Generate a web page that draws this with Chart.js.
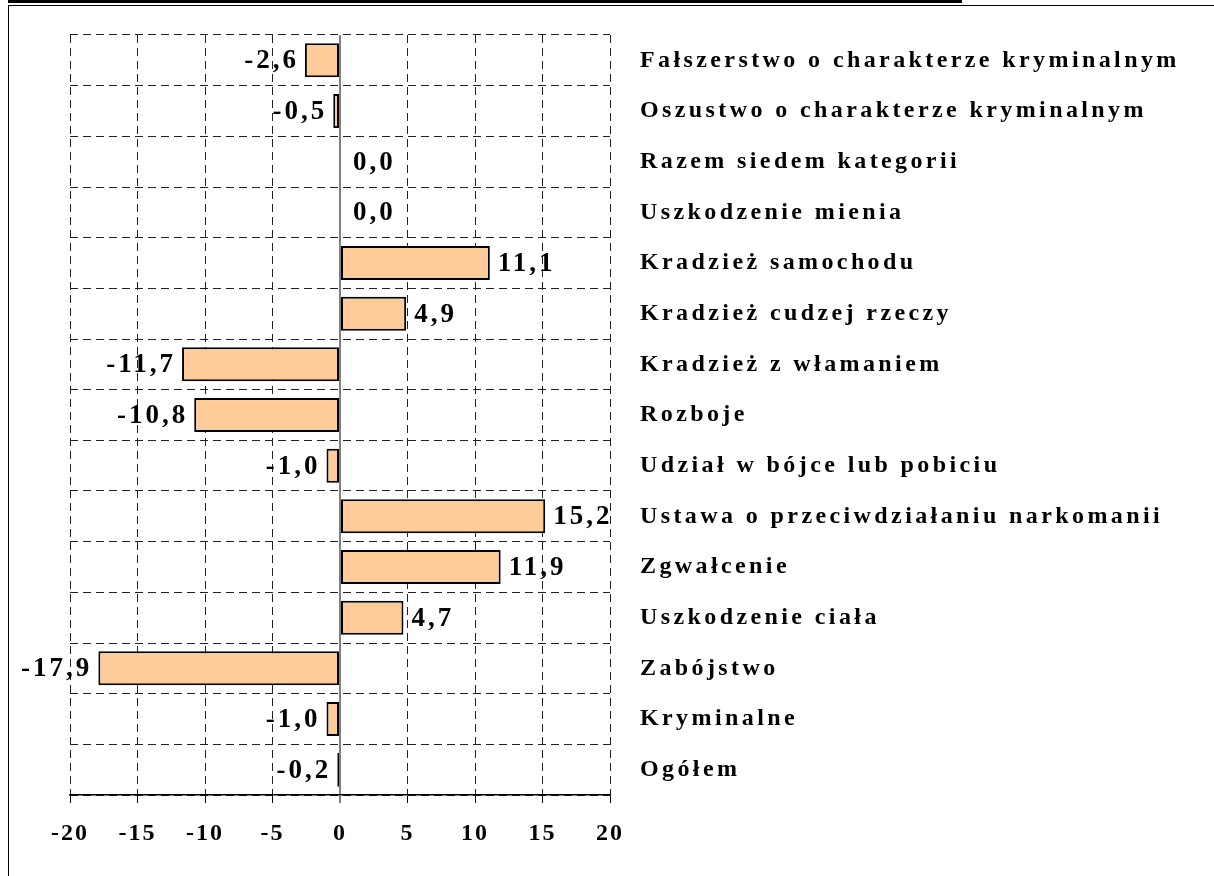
<!DOCTYPE html>
<html>
<head>
<meta charset="utf-8">
<script src="https://cdn.jsdelivr.net/npm/chart.js@4.4.1/dist/chart.umd.min.js"></script>
<style>
    html, body { margin: 0; padding: 0; background: #fff; }
    #wrap { position: relative; width: 1214px; height: 876px; overflow: hidden; }
    #titleBar { position: absolute; left: 8px; top: 0; width: 954px; height: 3px; background: #000; }
    #frame { position: absolute; left: 8px; top: 5px; width: 1300px; height: 1000px; border-left: 1px solid #000; border-top: 1px solid #000; }
    canvas { position: absolute; left: 0; top: 0; }
</style>
</head>
<body>
<div id="wrap">
    <div id="titleBar"></div>
    <div id="frame"></div>
    <canvas id="crimeChart" width="1214" height="876"></canvas>
</div>
<script>
const categories = [
    'Fałszerstwo o charakterze kryminalnym',
    'Oszustwo o charakterze kryminalnym',
    'Razem siedem kategorii',
    'Uszkodzenie mienia',
    'Kradzież samochodu',
    'Kradzież cudzej rzeczy',
    'Kradzież z włamaniem',
    'Rozboje',
    'Udział w bójce lub pobiciu',
    'Ustawa o przeciwdziałaniu narkomanii',
    'Zgwałcenie',
    'Uszkodzenie ciała',
    'Zabójstwo',
    'Kryminalne',
    'Ogółem'
];
const changes = [-2.6, -0.5, 0.0, 0.0, 11.1, 4.9, -11.7, -10.8, -1.0, 15.2, 11.9, 4.7, -17.9, -1.0, -0.2];
const xMin = -20;
const xMax = 20;
const xStep = 5;

const serif = "'Liberation Serif', 'DejaVu Serif', serif";

function fmt(v) {
    return v.toFixed(1).replace('.', ',');
}

// letter spacing: x tick labels are drawn before the bars, category labels after them (ticks.z = 1)
const spacingPlugin = {
    id: 'spacing',
    beforeDraw(chart) {
        chart.ctx.letterSpacing = '2px';
    },
    afterDatasetsDraw(chart) {
        chart.ctx.letterSpacing = '3.4px';
    }
};

const valueLabels = {
    id: 'valueLabels',
    afterDatasetsDraw(chart) {
        const ctx = chart.ctx;
        const meta = chart.getDatasetMeta(0);
        const zero = chart.scales.x.getPixelForValue(0);
        ctx.save();
        ctx.font = 'bold 27px ' + serif;
        ctx.letterSpacing = '3px';
        ctx.fillStyle = '#000';
        ctx.textBaseline = 'middle';
        meta.data.forEach((bar, i) => {
            const v = changes[i];
            if (v < 0) {
                ctx.textAlign = 'right';
                ctx.fillText(fmt(v), bar.x - 6, bar.y + 1);
            } else if (v > 0) {
                ctx.textAlign = 'left';
                ctx.fillText(fmt(v), bar.x + 8, bar.y + 1);
            } else {
                ctx.textAlign = 'left';
                ctx.fillText(fmt(v), zero + 13, bar.y + 1);
            }
        });
        ctx.restore();
    }
};

const ctx = document.getElementById('crimeChart').getContext('2d');
const chart = new Chart(ctx, {
    type: 'bar',
    data: {
        labels: categories,
        datasets: [{
            data: changes,
            backgroundColor: '#FFCC99',
            borderColor: '#000',
            borderWidth: 2,
            borderSkipped: false,
            barPercentage: 0.67,
            categoryPercentage: 1
        }]
    },
    options: {
        indexAxis: 'y',
        responsive: false,
        animation: false,
        layout: {
            padding: { left: 70, top: 35, right: 0, bottom: 0 }
        },
        plugins: {
            legend: { display: false },
            tooltip: { enabled: false }
        },
        scales: {
            x: {
                min: xMin,
                max: xMax,
                ticks: {
                    stepSize: xStep,
                    color: '#000',
                    padding: 16,
                    font: { family: serif, size: 24, weight: 'bold' }
                },
                grid: {
                    color: (c) => c.tick && c.tick.value === 0 ? '#808080' : '#222',
                    lineWidth: (c) => c.tick && c.tick.value === 0 ? 2 : 1,
                    drawTicks: true,
                    tickLength: 8,
                    tickColor: '#000',
                    tickWidth: 1
                },
                border: {
                    display: true,
                    color: '#000',
                    width: 1.5,
                    dash: (c) => c.tick && c.tick.value === 0 ? [] : [8, 5]
                },
                afterFit(scale) {
                    scale.height = 81;
                    scale.paddingLeft = 0;
                    scale.paddingRight = 0;
                }
            },
            y: {
                position: 'right',
                ticks: {
                    z: 1,
                    color: '#000',
                    padding: 30,
                    font: { family: serif, size: 24, weight: 'bold' }
                },
                grid: {
                    color: '#222',
                    lineWidth: 1,
                    drawTicks: false
                },
                border: {
                    display: false,
                    dash: [8, 5]
                },
                afterFit(scale) {
                    scale.width = 604;
                    scale.paddingTop = 0;
                    scale.paddingBottom = 0;
                }
            }
        }
    },
    plugins: [spacingPlugin, valueLabels]
});
</script>
</body>
</html>
